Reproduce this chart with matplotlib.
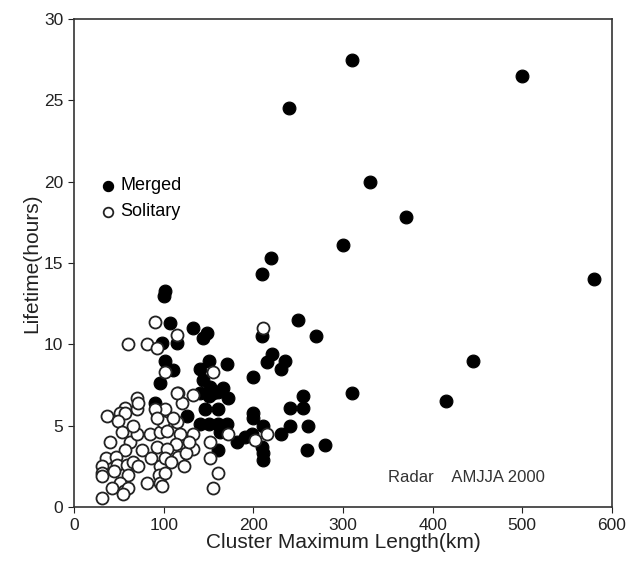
import matplotlib
matplotlib.use("Agg")
import matplotlib.pyplot as plt

plt.rcParams['font.family'] = ['Liberation Sans', 'DejaVu Sans']

# Merged clusters: maximum length (km), lifetime (hours)
merged_len = [310, 240, 500, 330, 370, 300, 580, 220, 210, 445, 415, 310, 250, 270,
              280, 260,
              210, 221, 215, 235, 231, 255, 241, 255, 241, 261, 231, 211, 211, 211,
              200, 200, 198, 191, 210, 200,
              100, 101, 107, 132, 148, 144, 115, 98, 101, 110, 150, 170, 140, 96,
              144, 152, 166, 172, 90, 146, 160, 126, 140, 150, 160, 170, 182, 160,
              140, 155, 160, 150, 163]
merged_life = [27.5, 24.5, 26.5, 20.0, 17.8, 16.1, 14.0, 15.3, 14.3, 9.0, 6.5, 7.0, 11.5, 10.5,
               3.8, 3.5,
               10.5, 9.4, 8.9, 9.0, 8.5, 6.8, 6.1, 6.1, 5.0, 5.0, 4.5, 5.0, 3.3, 2.9,
               8.0, 5.5, 4.5, 4.3, 3.7, 5.8,
               13.0, 13.3, 11.3, 11.0, 10.7, 10.4, 10.1, 10.1, 9.0, 8.4, 9.0, 8.8, 8.5, 7.6,
               7.8, 7.4, 7.3, 6.7, 6.4, 6.0, 6.0, 5.6, 5.1, 5.1, 5.1, 5.1, 4.0, 3.5,
               7.0, 7.0, 7.1, 6.8, 4.6]

# Solitary clusters
solitary_len = [90, 211, 115, 60, 81, 92, 101, 155, 70, 57, 116, 132,
                37, 51, 57, 70, 71, 92, 49, 40, 53, 62, 70, 85, 96, 92, 76, 57,
                35, 46, 31, 48, 59, 31, 31, 65, 71, 60, 96, 94, 81, 96, 51, 42,
                55, 60, 31, 54,
                101, 99, 104, 115, 118, 113, 104, 101, 116, 122, 101, 98, 132, 132,
                120, 110, 152, 152, 172, 160, 155, 202, 215, 90, 92, 115,
                125, 128, 108, 86, 44, 66]
solitary_life = [11.4, 11.0, 10.6, 10.0, 10.0, 9.8, 8.3, 8.3, 6.7, 6.1, 7.0, 6.9,
                 5.6, 5.8, 5.8, 6.0, 6.4, 5.8, 5.3, 4.0, 4.6, 4.0, 4.5, 4.5, 4.6, 3.7, 3.5, 3.5,
                 3.0, 3.1, 2.5, 2.6, 2.6, 2.1, 1.9, 2.8, 2.5, 2.0, 2.5, 2.0, 1.5, 1.5, 1.5, 1.2,
                 1.0, 1.2, 0.55, 0.8,
                 6.0, 5.2, 4.7, 5.2, 4.5, 3.9, 3.6, 3.0, 3.1, 2.5, 2.1, 1.3, 4.5, 3.6,
                 6.4, 5.5, 4.0, 3.0, 4.5, 2.1, 1.2, 4.1, 4.5, 6.0, 5.5, 7.0,
                 3.3, 4.0, 2.8, 3.0, 2.2, 5.0]

fig = plt.figure(figsize=(6.3, 5.73), dpi=100)
ax = fig.add_axes([0.118, 0.115, 0.853, 0.852])

ax.scatter(merged_len, merged_life, s=85, c="black", edgecolors="black",
           linewidths=0.8, label="Merged", zorder=3)
ax.scatter(solitary_len, solitary_life, s=75, facecolors="white",
           edgecolors="#222222", linewidths=1.3, label="Solitary", zorder=3)

ax.set_xlim(0, 600)
ax.set_ylim(0, 30)
ax.set_xticks(range(0, 601, 100))
ax.set_yticks(range(0, 31, 5))
ax.tick_params(direction="out", length=4, labelsize=12.5, colors="#222222",
               top=False, right=False, pad=4)
for side in ax.spines.values():
    side.set_linewidth(1.2)
    side.set_color("#333333")

ax.set_xlabel("Cluster Maximum Length(km)", fontsize=15, color="#222222", labelpad=0)
ax.set_ylabel("Lifetime(hours)", fontsize=15, color="#222222", labelpad=2)

ax.legend(loc="upper left", bbox_to_anchor=(0.035, 0.69), frameon=False,
          fontsize=13, handlelength=0.8, handletextpad=0.3, labelspacing=0.5,
          markerscale=0.8, borderaxespad=0)

ax.text(0.583, 0.052, "Radar    AMJJA 2000", transform=ax.transAxes,
        fontsize=12, color="#333333")

fig.savefig("out.png", dpi=100)
